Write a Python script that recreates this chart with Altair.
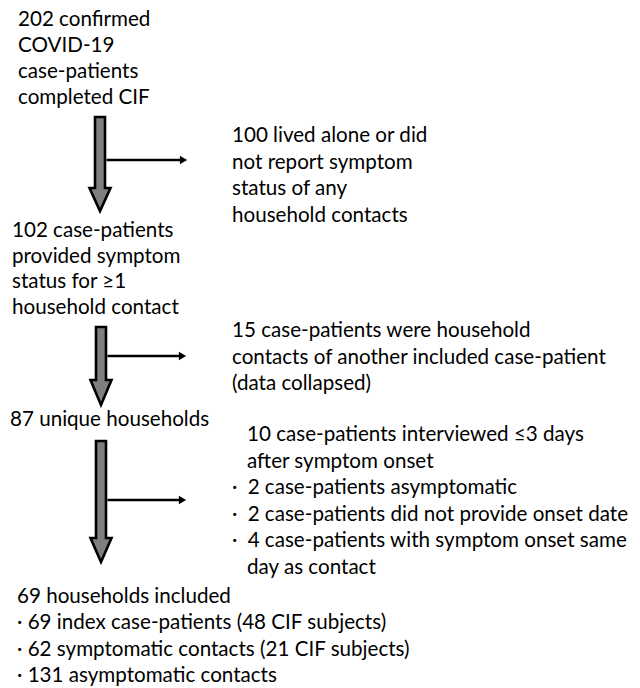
import altair as alt
import pandas as pd

FONT = "Lato"
FS = 20.6

# ---- text content ----
box1 = ["202 confirmed", "COVID-19", "case-patients", "completed CIF"]
box2 = ["102 case-patients", "provided symptom", "status for \u22651", "household contact"]
box3 = ["87 unique households"]
box4 = ["69 households included",
        "\u00b7 69 index case-patients (48 CIF subjects)",
        "\u00b7 62 symptomatic contacts (21 CIF subjects)",
        "\u00b7 131 asymptomatic contacts"]
excl1 = ["100 lived alone or did", "not report symptom", "status of any", "household contacts"]
excl2 = ["15 case-patients were household",
         "contacts of another included case-patient",
         "(data collapsed)"]
excl3 = ["10 case-patients interviewed \u22643 days",
         "after symptom onset",
         "\u00b7 2 case-patients asymptomatic",
         "\u00b7 2 case-patients did not provide onset date",
         "\u00b7 4 case-patients with symptom onset same",
         "day as contact"]

# ---- layout (page pixel coordinates) ----
# (lines, x, first-line y, line step, indent of non-bullet lines, bullet gap)
blocks = [
    (box1, 18, 20, 26.0, 0, "  "),
    (box2, 12, 231, 25.5, 0, "  "),
    (box3, 10, 420, 26, 0, "  "),
    (box4, 17, 597, 26.3, 0, "  "),
    (excl1, 232, 136, 26.7, 0, "  "),
    (excl2, 232, 331, 26.5, 0, "  "),
    (excl3, 232, 435, 26.6, 15, "\u2002"),
]

rows = []
for lines, x0, y0, dy, indent, gap in blocks:
    for i, t in enumerate(lines):
        x = x0 if t.startswith("\u00b7") else x0 + indent
        rows.append({"x": x, "y": y0 + i * dy, "text": t.replace("\u00b7 ", "\u00b7" + gap)})
text_df = pd.DataFrame(rows)

# arrows: (center x, shaft top, head top, tip, side y, side end)
arrows = [
    (100, 117, 188, 211, 160, 188),
    (101, 327, 380, 405, 356, 187),
    (101, 441, 538, 562, 500, 187),
]
SH = 5.0   # shaft half width
HH = 10.5  # head half width

W, H = 624, 680
xs = alt.Scale(domain=[8, 8 + W], nice=False, zero=False)
ys = alt.Scale(domain=[8, 8 + H], nice=False, zero=False, reverse=True)
X = lambda f="x": alt.X(f, type="quantitative", scale=xs, axis=None)
Y = lambda f="y": alt.Y(f, type="quantitative", scale=ys, axis=None)

texts = alt.Chart(text_df).mark_text(
    align="left", baseline="middle", font=FONT, fontSize=FS, color="#000000"
).encode(x=X(), y=Y(), text="text:N")

layers = [texts]
side_rows, tip_rows = [], []
for k, (cx, top, htop, tip, sy, send) in enumerate(arrows):
    L = tip - top
    half = L / 2.0
    mid = (top + tip) / 2.0
    n = lambda v: round(v / half, 4)
    pts = [(-HH, htop - mid), (-SH, htop - mid), (-SH, top - mid), (SH, top - mid),
           (SH, htop - mid), (HH, htop - mid), (0, tip - mid)]
    path = "M" + "L".join(f"{n(px)},{n(py)}" for px, py in pts) + "Z"
    adf = pd.DataFrame({"x": [cx], "y": [mid]})
    layers.append(
        alt.Chart(adf).mark_point(
            shape=path, size=L * L, filled=True, fill="#7f7f7f", stroke="#000000",
            strokeWidth=2.6, strokeJoin="miter", opacity=1, fillOpacity=1, strokeOpacity=1
        ).encode(x=X(), y=Y())
    )
    side_rows.append({"arrow": k, "x": cx + SH + 1.5, "x2": send - 7, "y": sy})
    tip_rows.append({"arrow": k, "x": send - 4.5, "y": sy})

side_df = pd.DataFrame(side_rows)
tip_df = pd.DataFrame(tip_rows)

sides = alt.Chart(side_df).mark_rule(color="#000000", strokeWidth=2.6).encode(
    x=X(), x2="x2:Q", y=Y()
)
heads = alt.Chart(tip_df).mark_point(
    shape="triangle-right", filled=True, color="#000000", size=70, opacity=1
).encode(x=X(), y=Y())
layers += [sides, heads]

chart = alt.layer(*layers).properties(
    width=W, height=H, padding=0,
    autosize=alt.AutoSizeParams(type="none"),
).configure_view(stroke=None)

chart.save("out.html", embed_options={"renderer": "svg", "actions": False})
